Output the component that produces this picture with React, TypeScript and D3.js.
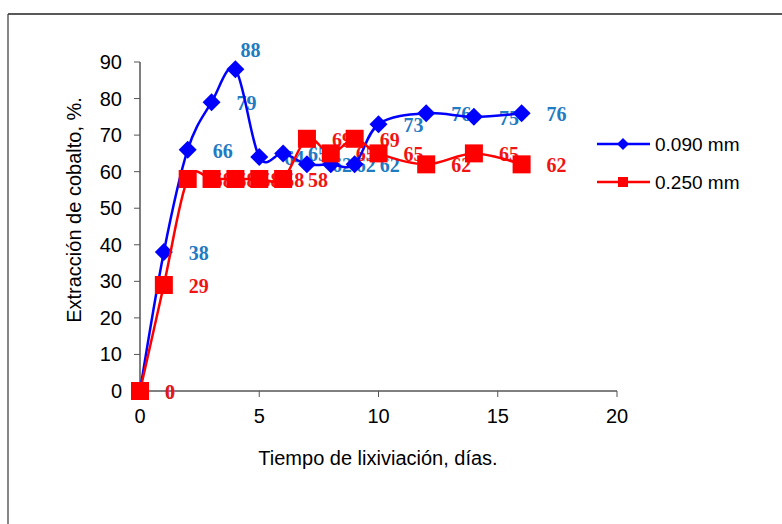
import React from "react";
import * as d3 from "d3";

// Leaching time (days) and cobalt extraction (%) for two particle sizes
const days = [0, 1, 2, 3, 4, 5, 6, 7, 8, 9, 10, 12, 14, 16];
const fine090 = [0, 38, 66, 79, 88, 64, 65, 62, 62, 62, 73, 76, 75, 76];
const coarse250 = [0, 29, 58, 58, 58, 58, 58, 69, 65, 69, 65, 62, 65, 62];
const seriesNames = ["0.090 mm", "0.250 mm"];
const xTicks = [0, 5, 10, 15, 20];
const yTicks = [0, 10, 20, 30, 40, 50, 60, 70, 80, 90];

const W = 782;
const H = 524;
const SANS = "'Liberation Sans', Arial, sans-serif";
const SERIF = "'Liberation Serif', 'Times New Roman', serif";

const x = d3.scaleLinear().domain([0, 20]).range([140, 617]);
const y = d3.scaleLinear().domain([0, 90]).range([391, 62]);

const smooth = d3
  .line<[number, number]>()
  .x((d) => x(d[0]))
  .y((d) => y(d[1]))
  .curve(d3.curveCardinal.tension(0));

type Series = {
  name: string;
  values: number[];
  line: string;
  label: string;
  marker: "diamond" | "square";
};

const series: Series[] = [
  { name: seriesNames[0], values: fine090, line: "#0000FF", label: "#1F7BC2", marker: "diamond" },
  { name: seriesNames[1], values: coarse250, line: "#FF0000", label: "#F01414", marker: "square" },
];

function Marker({ kind, cx, cy, r, color }: { kind: string; cx: number; cy: number; r: number; color: string }) {
  if (kind === "diamond") {
    return (
      <path
        d={`M${cx},${cy - r}L${cx + r},${cy}L${cx},${cy + r}L${cx - r},${cy}Z`}
        fill={color}
      />
    );
  }
  return <rect x={cx - r} y={cy - r} width={2 * r} height={2 * r} fill={color} />;
}

export default function App() {
  return (
    <svg
      width={W}
      height={H}
      style={{ position: "absolute", left: 0, top: 0, background: "#fff" }}
    >
      {/* chart frame */}
      <line x1={8} y1={14} x2={W} y2={14} stroke="#222" strokeWidth={1.3} />
      <line x1={8} y1={14} x2={8} y2={H} stroke="#444" strokeWidth={1.3} />

      {/* y axis */}
      <line x1={x(0)} y1={y(0)} x2={x(0)} y2={y(90)} stroke="#000" strokeWidth={1} />
      {yTicks.map((t) => (
        <g key={`y${t}`}>
          <line x1={x(0) - 6} x2={x(0)} y1={y(t)} y2={y(t)} stroke="#555" />
          <text
            x={122}
            y={y(t)}
            textAnchor="end"
            dominantBaseline="central"
            fontFamily={SANS}
            fontSize={20}
            fill="#000"
          >
            {t}
          </text>
        </g>
      ))}

      {/* x axis */}
      <line x1={x(0)} y1={y(0)} x2={x(20)} y2={y(0)} stroke="#000" strokeWidth={1} />
      {xTicks.map((t) => (
        <g key={`x${t}`}>
          <line x1={x(t)} x2={x(t)} y1={y(0)} y2={y(0) + 6} stroke="#555" />
          <text
            x={x(t)}
            y={423}
            textAnchor="middle"
            fontFamily={SANS}
            fontSize={20}
            fill="#000"
          >
            {t}
          </text>
        </g>
      ))}

      <text x={378} y={465} textAnchor="middle" fontFamily={SANS} fontSize={20} fill="#000">
        Tiempo de lixiviación, días.
      </text>
      <text
        transform={`translate(81,210) rotate(-90)`}
        textAnchor="middle"
        fontFamily={SANS}
        fontSize={20}
        fill="#000"
      >
        Extracción de cobalto, %.
      </text>

      {/* value labels (drawn beneath the markers) */}
      {series.map((s) => {
        const peak = d3.maxIndex(s.values);
        return (
          <g key={`lab-${s.name}`}>
            {s.values.map((v, i) => {
              const abovePeak = s.marker === "diamond" && i === peak;
              return (
                <text
                  key={i}
                  x={x(days[i]) + (abovePeak ? 5 : 25)}
                  y={y(v) + (abovePeak ? -19 : 1)}
                  dominantBaseline="central"
                  fontFamily={SERIF}
                  fontWeight="bold"
                  fontSize={20}
                  fill={s.label}
                >
                  {v}
                </text>
              );
            })}
          </g>
        );
      })}

      {/* lines and markers */}
      {series.map((s) => (
        <g key={`ser-${s.name}`}>
          <path
            d={smooth(days.map((d, i) => [d, s.values[i]] as [number, number])) || ""}
            fill="none"
            stroke={s.line}
            strokeWidth={2.5}
          />
          {s.values.map((v, i) => (
            <Marker key={i} kind={s.marker} cx={x(days[i])} cy={y(v)} r={9} color={s.line} />
          ))}
        </g>
      ))}

      {/* legend */}
      {series.map((s, i) => {
        const ly = 144 + i * 38;
        return (
          <g key={`leg-${s.name}`}>
            <line x1={597} x2={650} y1={ly} y2={ly} stroke={s.line} strokeWidth={2.5} />
            <Marker kind={s.marker} cx={623} cy={ly} r={s.marker === "diamond" ? 6 : 5} color={s.line} />
            <text
              x={655}
              y={ly}
              dominantBaseline="central"
              fontFamily={SANS}
              fontSize={19}
              fill="#000"
            >
              {s.name}
            </text>
          </g>
        );
      })}
    </svg>
  );
}
